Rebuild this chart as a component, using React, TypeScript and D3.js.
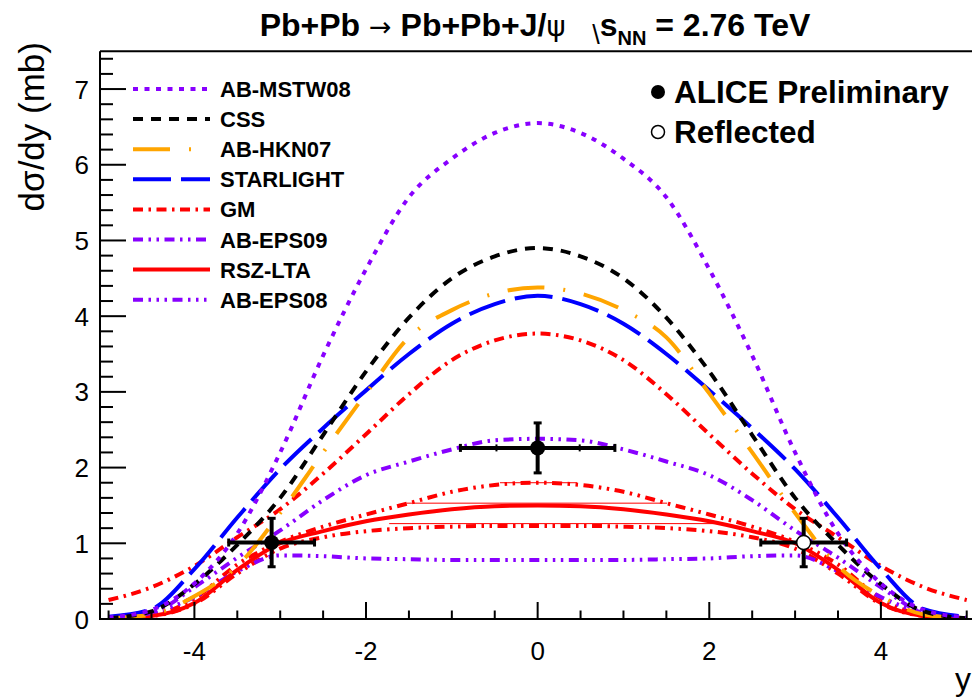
import React from "react";
import * as d3 from "d3";

// ---------- data ----------
const rapidity = [-5, -4.5, -4, -3.5, -3, -2.5, -2, -1.5, -1, -0.5, 0, 0.5, 1, 1.5, 2, 2.5, 3, 3.5, 4, 4.5, 5];

const abMstw08 = [0.02, 0.12, 0.47, 1.13, 2.2, 3.48, 4.62, 5.57, 6.08, 6.42, 6.55, 6.42, 6.08, 5.57, 4.62, 3.48, 2.2, 1.13, 0.47, 0.12, 0.02];
const css = [0.01, 0.1, 0.46, 0.98, 1.6, 2.43, 3.27, 3.98, 4.5, 4.79, 4.9, 4.79, 4.5, 3.98, 3.27, 2.43, 1.6, 0.98, 0.46, 0.1, 0.01];
const abHkn07 = [0.01, 0.06, 0.3, 0.7, 1.4, 2.2, 2.98, 3.72, 4.08, 4.3, 4.38, 4.3, 4.08, 3.72, 2.98, 2.2, 1.4, 0.7, 0.3, 0.06, 0.01];
const starlight = [0.03, 0.13, 0.66, 1.34, 1.98, 2.52, 3.02, 3.5, 3.9, 4.16, 4.27, 4.16, 3.9, 3.5, 3.02, 2.52, 1.98, 1.34, 0.66, 0.13, 0.03];
const gm = [0.25, 0.42, 0.7, 1.08, 1.45, 1.92, 2.44, 2.97, 3.42, 3.68, 3.77, 3.68, 3.42, 2.97, 2.44, 1.92, 1.45, 1.08, 0.7, 0.42, 0.25];
const abEps09 = [0.01, 0.08, 0.42, 0.81, 1.17, 1.57, 1.9, 2.08, 2.24, 2.36, 2.38, 2.36, 2.24, 2.08, 1.9, 1.57, 1.17, 0.81, 0.42, 0.08, 0.01];
const rszLta = [0.01, 0.04, 0.21, 0.65, 1.0, 1.16, 1.29, 1.38, 1.45, 1.49, 1.5, 1.49, 1.45, 1.38, 1.29, 1.16, 1.0, 0.65, 0.21, 0.04, 0.01];
const rszUpper = [0.01, 0.05, 0.27, 0.72, 1.02, 1.22, 1.38, 1.53, 1.68, 1.77, 1.8, 1.77, 1.68, 1.53, 1.38, 1.22, 1.02, 0.72, 0.27, 0.05, 0.01];
const rszLower = [0.01, 0.04, 0.2, 0.6, 0.93, 1.08, 1.16, 1.2, 1.22, 1.23, 1.23, 1.23, 1.22, 1.2, 1.16, 1.08, 0.93, 0.6, 0.2, 0.04, 0.01];
const abEps08 = [0.01, 0.08, 0.29, 0.63, 0.84, 0.83, 0.8, 0.79, 0.78, 0.78, 0.78, 0.78, 0.78, 0.79, 0.8, 0.83, 0.84, 0.63, 0.29, 0.08, 0.01];

// thin RSZ band segments
const thinValue = [1.8, 1.53, 1.26];
const thinFrom = [-0.44, -1.53, -1.73];
const thinTo = [0.46, 1.51, 2.05];

// ALICE data
const aliceY = [-3.1, 0];
const aliceSigma = [1.01, 2.26];
const aliceErrY = [0.32, 0.33];
const aliceErrX = [0.5, 0.9];
const aliceInnerTicks = [-0.48, 0.49];
const reflectedY = [3.1];
const reflectedSigma = [1.01];
const reflectedErrY = [0.32];
const reflectedErrX = [0.5];

const xMajorTicks = [-4, -2, 0, 2, 4];
const yMajorTicks = [0, 1, 2, 3, 4, 5, 6, 7];

const legendNames = ["AB-MSTW08", "CSS", "AB-HKN07", "STARLIGHT", "GM", "AB-EPS09", "RSZ-LTA", "AB-EPS08"];

// ---------- styles ----------
const PURPLE = "#8800ff";
const RED = "#ff0000";
const styles: Record<string, { color: string; dash: string; width: number }> = {
  "AB-MSTW08": { color: PURPLE, dash: "5 6.5", width: 4 },
  CSS: { color: "#000000", dash: "10 8", width: 4 },
  "AB-HKN07": { color: "#ffa500", dash: "37 19 2 19", width: 4 },
  STARLIGHT: { color: "#0000ff", dash: "38 10", width: 4 },
  GM: { color: RED, dash: "10 5.5 2.5 5.5", width: 4 },
  "AB-EPS09": { color: PURPLE, dash: "10 5.5 2.5 5.5 2.5 5.5", width: 4 },
  "RSZ-LTA": { color: RED, dash: "", width: 4 },
  "AB-EPS08": { color: PURPLE, dash: "10 5.5 2.5 5.5 2.5 5.5 2.5 5.5", width: 4 },
};

const FONT = "'Liberation Sans', Arial, Helvetica, sans-serif";

export default function App() {
  const W = 972;
  const H = 698;
  const left = 100;
  const right = 975.3;
  const top = 51.2;
  const bottom = 619;

  const x = d3.scaleLinear().domain([-5.1, 5.1]).range([left, right]);
  const y = d3.scaleLinear().domain([0, 7.5]).range([bottom, top]);

  const line = d3
    .line<number>()
    .x((_, i) => x(rapidity[i]))
    .y((d) => y(d))
    .curve(d3.curveMonotoneX);

  const curves: { key: string; values: number[]; style: { color: string; dash: string; width: number } }[] = [
    { key: "rszUpper", values: rszUpper, style: { color: RED, dash: "10 5.5 2.5 5.5 2.5 5.5", width: 4 } },
    { key: "rszLower", values: rszLower, style: { color: RED, dash: "10 5.5 2.5 5.5 2.5 5.5", width: 4 } },
    { key: "AB-EPS08", values: abEps08, style: styles["AB-EPS08"] },
    { key: "RSZ-LTA", values: rszLta, style: styles["RSZ-LTA"] },
    { key: "AB-EPS09", values: abEps09, style: styles["AB-EPS09"] },
    { key: "GM", values: gm, style: styles["GM"] },
    { key: "STARLIGHT", values: starlight, style: styles["STARLIGHT"] },
    { key: "AB-HKN07", values: abHkn07, style: styles["AB-HKN07"] },
    { key: "CSS", values: css, style: styles["CSS"] },
    { key: "AB-MSTW08", values: abMstw08, style: styles["AB-MSTW08"] },
  ];

  const xMinor = d3.range(-5, 5.001, 0.5).filter((v) => !xMajorTicks.some((t) => Math.abs(t - v) < 1e-6));
  const yMinor = d3.range(0, 7.5, 0.2).filter((v) => !yMajorTicks.some((t) => Math.abs(t - v) < 1e-6));

  const xMajLen = 17;
  const xMinLen = 8.5;
  const yMajLen = 26;
  const yMinLen = 13;

  const errorBar = (cx: number, cy: number, ex: number, ey: number, key: string) => {
    const px = x(cx);
    const py = y(cy);
    const x0 = x(cx - ex);
    const x1 = x(cx + ex);
    const y0 = y(cy - ey);
    const y1 = y(cy + ey);
    const cap = 4;
    return (
      <g key={key} stroke="#000" strokeWidth={4}>
        <line x1={x0} x2={x1} y1={py} y2={py} />
        <line x1={px} x2={px} y1={y0} y2={y1} />
        <line x1={x0} x2={x0} y1={py - cap} y2={py + cap} strokeWidth={3} />
        <line x1={x1} x2={x1} y1={py - cap} y2={py + cap} strokeWidth={3} />
        <line x1={px - cap} x2={px + cap} y1={y0} y2={y0} strokeWidth={3} />
        <line x1={px - cap} x2={px + cap} y1={y1} y2={y1} strokeWidth={3} />
      </g>
    );
  };

  const legendX0 = 133;
  const legendX1 = 210;
  const legendTextX = 220;
  const legendRow0 = 89;
  const legendStep = 30.1;

  return (
    <svg
      width={W}
      height={H}
      viewBox={`0 0 ${W} ${H}`}
      style={{ position: "absolute", left: 0, top: 0, background: "#fff" }}
      fontFamily={FONT}
    >
      <rect x={0} y={0} width={W} height={H} fill="#fff" />
      <defs>
        <clipPath id="plotClip">
          <rect x={left} y={top} width={right - left} height={bottom - top} />
        </clipPath>
      </defs>

      {/* title */}
      <text x={535} y={36} textAnchor="middle" fontSize={32} fontWeight="bold" style={{ whiteSpace: "pre" }}>
        <tspan>Pb+Pb </tspan>
        <tspan fontWeight="normal" fontFamily="'DejaVu Sans', sans-serif" fontSize={27}>→</tspan>
        <tspan> Pb+Pb+J/</tspan>
        <tspan fontWeight="normal" fontFamily="'DejaVu Sans', sans-serif" fontSize={29}>ψ</tspan>
        <tspan>{"   "}</tspan>
        <tspan fontWeight="normal" fontSize={27} dy={8}>\</tspan>
        <tspan dy={-8}>s</tspan>
        <tspan fontSize={20} dy={9}>NN</tspan>
        <tspan dy={-9}> = 2.76 TeV</tspan>
      </text>

      {/* curves */}
      <g clipPath="url(#plotClip)" fill="none">
        {thinValue.map((v, i) => (
          <line key={`thin${i}`} x1={x(thinFrom[i])} x2={x(thinTo[i])} y1={y(v)} y2={y(v)} stroke={RED} strokeWidth={1} />
        ))}
        {curves.map((c) => (
          <path
            key={c.key}
            d={line(c.values) || ""}
            stroke={c.style.color}
            strokeWidth={c.style.width}
            strokeDasharray={c.style.dash || undefined}
          />
        ))}
      </g>

      {/* data points */}
      {aliceY.map((v, i) => errorBar(v, aliceSigma[i], aliceErrX[i], aliceErrY[i], `ae${i}`))}
      {aliceInnerTicks.map((v, i) => (
        <line key={`it${i}`} x1={x(v)} x2={x(v)} y1={y(aliceSigma[1]) - 3.5} y2={y(aliceSigma[1]) + 3.5} stroke="#000" strokeWidth={2} />
      ))}
      {reflectedY.map((v, i) => errorBar(v, reflectedSigma[i], reflectedErrX[i], reflectedErrY[i], `re${i}`))}
      {aliceY.map((v, i) => (
        <circle key={`am${i}`} cx={x(v)} cy={y(aliceSigma[i])} r={7.5} fill="#000" />
      ))}
      {reflectedY.map((v, i) => (
        <circle key={`rm${i}`} cx={x(v)} cy={y(reflectedSigma[i])} r={7} fill="#fff" stroke="#000" strokeWidth={1.5} />
      ))}

      {/* frame & axes */}
      <g stroke="#000" strokeWidth={2} fill="none">
        <line x1={left} x2={right} y1={top} y2={top} />
        <line x1={right} x2={right} y1={top} y2={bottom} />
        <line x1={left} x2={left} y1={top} y2={bottom + 1} />
        <line x1={left - 1} x2={right} y1={bottom} y2={bottom} />
        {xMajorTicks.map((t) => (
          <line key={`xM${t}`} x1={x(t)} x2={x(t)} y1={bottom} y2={bottom - xMajLen} />
        ))}
        {xMinor.map((t) => (
          <line key={`xm${t}`} x1={x(t)} x2={x(t)} y1={bottom} y2={bottom - xMinLen} />
        ))}
        {yMajorTicks.map((t) => (
          <line key={`yM${t}`} x1={left} x2={left + yMajLen} y1={y(t)} y2={y(t)} />
        ))}
        {yMinor.map((t) => (
          <line key={`ym${t}`} x1={left} x2={left + yMinLen} y1={y(t)} y2={y(t)} />
        ))}
      </g>

      {/* tick labels */}
      <g fontSize={26} fill="#000">
        {xMajorTicks.map((t) => (
          <text key={`xl${t}`} x={x(t)} y={660} textAnchor="middle">
            {t < 0 ? `-${Math.abs(t)}` : `${t}`}
          </text>
        ))}
        {yMajorTicks.map((t) => (
          <text key={`yl${t}`} x={89} y={y(t) + 9.5} textAnchor="end">
            {t}
          </text>
        ))}
      </g>

      {/* axis titles */}
      <text x={971} y={690} textAnchor="end" fontSize={32}>y</text>
      <text transform={`translate(44, 42) rotate(-90)`} textAnchor="end" fontSize={35}>
        dσ/dy (mb)
      </text>

      {/* model legend */}
      {legendNames.map((n, i) => {
        const cy = legendRow0 + i * legendStep;
        const s = styles[n];
        return (
          <g key={`lg${n}`}>
            <line x1={legendX0} x2={legendX1} y1={cy} y2={cy} stroke={s.color} strokeWidth={s.width} strokeDasharray={s.dash || undefined} />
            <text x={legendTextX} y={cy + 8} fontSize={22} fontWeight="bold">
              {n}
            </text>
          </g>
        );
      })}

      {/* data legend */}
      <circle cx={658} cy={92} r={7} fill="#000" />
      <text x={674} y={103} fontSize={31.5} fontWeight="bold">ALICE Preliminary</text>
      <circle cx={658} cy={132} r={6.5} fill="#fff" stroke="#000" strokeWidth={1.5} />
      <text x={674} y={143} fontSize={31.5} fontWeight="bold">Reflected</text>
    </svg>
  );
}
